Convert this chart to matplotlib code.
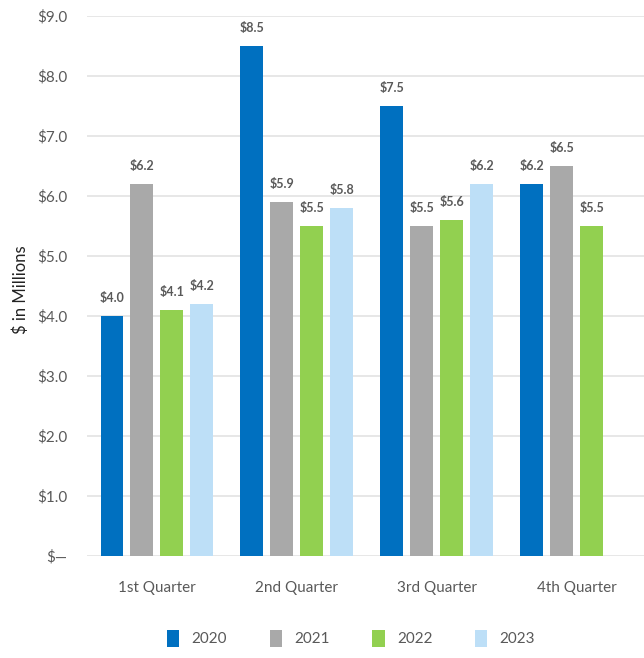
import matplotlib
matplotlib.use('Agg')
import matplotlib.pyplot as plt
import numpy as np

plt.rcParams['font.family'] = ['Lato', 'DejaVu Sans']

quarters = ['1st Quarter', '2nd Quarter', '3rd Quarter', '4th Quarter']
years = ['2020', '2021', '2022', '2023']
vals_2020 = [4.0, 8.5, 7.5, 6.2]
vals_2021 = [6.2, 5.9, 5.5, 6.5]
vals_2022 = [4.1, 5.5, 5.6, 5.5]
vals_2023 = [4.2, 5.8, 6.2, None]
colors = ['#0070C0', '#A9A9A9', '#92D050', '#BDDFF7']

series = [vals_2020, vals_2021, vals_2022, vals_2023]

fig = plt.figure(figsize=(6.44, 6.58), dpi=100)
ax = fig.add_axes([0.135, 0.155, 0.865, 0.8207])

x = np.arange(len(quarters))
w = 0.164
step = 0.214
for i, (vals, yr, c) in enumerate(zip(series, years, colors)):
    xs = [xx + (i - 1.5) * step for xx, v in zip(x, vals) if v is not None]
    vs = [v for v in vals if v is not None]
    ax.bar(xs, vs, width=w, color=c, label=yr, zorder=3)
    for xx, v in zip(xs, vs):
        ax.text(xx, v + 0.2, '$%.1f' % v, ha='center', va='bottom',
                fontsize=9, fontweight='bold', color='#595959')

ax.set_xlim(-0.5, 3.48)
ax.set_ylim(0, 9.0)
ax.set_yticks(np.arange(0, 9.5, 1.0))
ax.set_yticklabels(['$\u2014'] + ['$%.1f' % t for t in np.arange(1, 9.5, 1.0)])
ax.set_xticks(x)
ax.set_xticklabels(quarters)
ax.tick_params(length=0, labelsize=11, colors='#595959')
ax.tick_params(axis='y', pad=14)
ax.tick_params(axis='x', pad=18)
ax.grid(axis='y', color='#E3E3E3', linewidth=1.2, zorder=0)
for s in ax.spines.values():
    s.set_visible(False)
fig.text(0.032, 0.56, '$ in Millions', rotation=90, fontsize=12,
         color='#222222', ha='center', va='center')

fig.legend(loc='center', bbox_to_anchor=(0.545, 0.03), ncol=4, frameon=False,
           fontsize=11, handlelength=0.8, handleheight=1.3, columnspacing=2.8,
           labelcolor='#595959')

plt.savefig('out.png')
